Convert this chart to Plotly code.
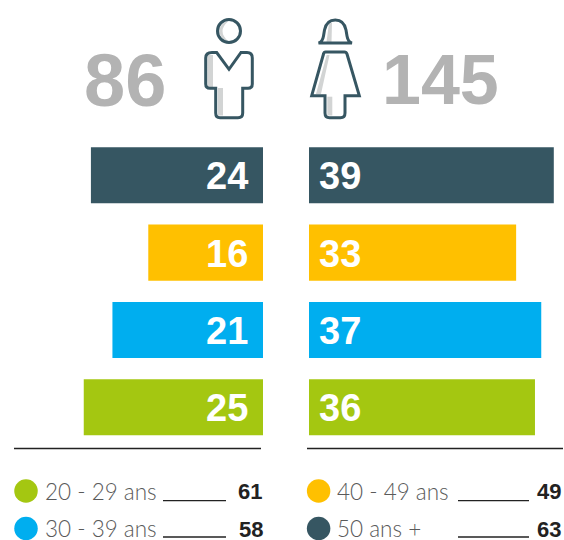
import plotly.graph_objects as go

categories = ["20 - 29 ans", "30 - 39 ans", "40 - 49 ans", "50 ans +"]
men = [25, 21, 16, 24]
women = [36, 37, 33, 39]
totals = [61, 58, 49, 63]
men_total = 86
women_total = 145
colors = ["#A4C711", "#00AEEF", "#FFC000", "#365662"]

W, H = 564, 540
DARK = "#365662"
SHADOW = "#D2D4D4"
GREY = "#B3B3B3"
NUM = "Liberation Sans, Arial, sans-serif"
LIGHT = "Lato, Open Sans, sans-serif"

fig = go.Figure()
fig.add_trace(go.Bar(y=categories, x=men, orientation="h", marker=dict(color=colors, line_width=0),
                     xaxis="x", yaxis="y", hoverinfo="skip", width=0.724))
fig.add_trace(go.Bar(y=categories, x=women, orientation="h", marker=dict(color=colors, line_width=0),
                     xaxis="x2", yaxis="y", hoverinfo="skip", width=0.724))

dot_x = [26, 26, 318.6, 318.6]
dot_y = [491, 528.5, 491, 528.5]
fig.add_trace(go.Scatter(x=dot_x, y=dot_y, mode="markers", xaxis="x3", yaxis="y3", hoverinfo="skip",
                         marker=dict(size=23.5, color=colors, line_width=0)))

ann = []
for c, v in zip(categories, men):
    ann.append(dict(x=0, y=c, xref="x", yref="y", text=str(v), showarrow=False, xanchor="right", xshift=-13,
                    yshift=-1, font=dict(family=NUM, size=38, color="white", weight="bold")))
for c, v in zip(categories, women):
    ann.append(dict(x=0, y=c, xref="x2", yref="y", text=str(v), showarrow=False, xanchor="left", xshift=8,
                    yshift=-1, font=dict(family=NUM, size=38, color="white", weight="bold")))

ann.append(dict(x=168, y=80, xref="x3", yref="y3", text=str(men_total), showarrow=False, xanchor="right",
                font=dict(family=NUM, size=74, color=GREY, weight="bold")))
ann.append(dict(x=380, y=80, xref="x3", yref="y3", text=str(women_total), showarrow=False, xanchor="left",
                font=dict(family=NUM, size=70, color=GREY, weight="bold")))

leg_text_x = [43, 43, 335, 335]
leg_num_x = [264, 265, 563, 563]
for c, t, x, nx, y in zip(categories, totals, leg_text_x, leg_num_x, dot_y):
    ann.append(dict(x=x, y=y, xref="x3", yref="y3", text=c, showarrow=False, xanchor="left",
                    font=dict(family=LIGHT, size=22.5, color="#5A5A5A", weight=300)))
    ann.append(dict(x=nx, y=y + 0.5, xref="x3", yref="y3", text=str(t), showarrow=False, xanchor="right",
                    font=dict(family=NUM, size=22, color="#222222", weight="bold")))

def rule(x0, x1, y, width=1.3):
    return dict(type="line", xref="x3", yref="y3", x0=x0, x1=x1, y0=y, y1=y,
                line=dict(color="#222222", width=width))

def path(d, fill=None, stroke=None):
    return dict(type="path", xref="x3", yref="y3", path=d, layer="above",
                fillcolor=fill or "rgba(0,0,0,0)",
                line=dict(color=stroke or "rgba(0,0,0,0)", width=3 if stroke else 0))

shapes = [rule(14, 261, 448.5), rule(307, 563, 448.5),
          rule(163, 226, 500.7), rule(163, 226, 537),
          rule(458, 529, 500.7), rule(458, 529, 537)]

shapes += [
    path("M228 21.5 Q217 31 228 41 Q221 40 219 31 Q221 22 228 21.5 Z", fill=SHADOW),
    path("M207.5 55 L213 55 L213 88 L207.5 86 Z", fill=SHADOW),
    path("M218 88 L223 88 L223 115.5 L218 115.5 Z", fill=SHADOW),
    dict(type="circle", xref="x3", yref="y3", x0=217.5, x1=240.5, y0=19.5, y1=42.5, layer="above",
         line=dict(color=DARK, width=3)),
    path("M212 52.5 L216.7 52.5 L229 69.3 L241 52.5 L247 52.5 Q252.3 52.5 252.3 58 L252.3 84 "
         "Q252.3 88.3 248 88.3 L242.7 88.3 L242.7 113 Q242.7 117.7 238 117.7 L220 117.7 "
         "Q215.7 117.7 215.7 113 L215.7 88.3 L210 88.3 Q205.7 88.3 205.7 84 L205.7 58 Q205.7 52.5 212 52.5 Z",
         stroke=DARK),
]
shapes += [
    path("M329 23 L332 23 L331.5 42 L326.5 42 Z", fill=SHADOW),
    path("M326.7 55 L329.5 55 L321 94 L316 94 Z", fill=SHADOW),
    path("M327.3 96.7 L332.3 96.7 L332.3 115.5 L327.3 115.5 Z", fill=SHADOW),
    path("M318.5 43 L352 43 Q348 42 347 36 L346 30 Q344 20 335.3 20 Q326.5 20 324.5 30 L323.5 36 "
         "Q322.5 42 318.5 43 Z", stroke=DARK),
    path("M325.5 52 L344.5 52 Q346.3 52 347 54 L359.3 95.7 L345 95.7 L345 113 Q345 117.7 340.5 117.7 "
         "L329.5 117.7 Q325 117.7 325 113 L325 95.7 L311.7 95.7 L323.5 54 Q324 52 325.5 52 Z",
         stroke=DARK),
]

hidden = dict(visible=False, fixedrange=True)
left_edge, right_edge = 263, 309
fig.update_layout(
    width=W, height=H, margin=dict(l=0, r=0, t=0, b=0), showlegend=False, barmode="overlay",
    paper_bgcolor="white", plot_bgcolor="rgba(0,0,0,0)", annotations=ann, shapes=shapes,
    xaxis=dict(domain=[0, left_edge / W], range=[left_edge / 7.17, 0], anchor="y", **hidden),
    xaxis2=dict(domain=[right_edge / W, 1], range=[0, (W - right_edge) / 6.277], anchor="y", **hidden),
    yaxis=dict(domain=[1 - 446 / H, 1 - 136.6 / H], type="category", categoryorder="array",
               categoryarray=categories, range=[-0.5, 3.5], **hidden),
    xaxis3=dict(domain=[0, 1], range=[0, W], anchor="y3", **hidden),
    yaxis3=dict(domain=[0, 1], range=[H, 0], anchor="x3", **hidden),
)
fig.write_html("out.html", config={"displayModeBar": False},
               post_script="document.body.style.margin='0';document.body.style.overflow='hidden';")
